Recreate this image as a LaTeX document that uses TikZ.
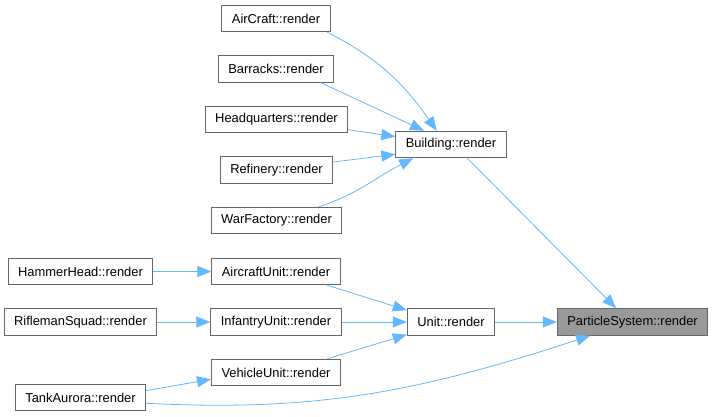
\documentclass[tikz,border=0pt]{standalone}
\usepackage{fontspec}
\setmainfont{Liberation Sans}
\usetikzlibrary{arrows.meta}
\definecolor{edgeblue}{HTML}{63B8FF}
\definecolor{boxgray}{HTML}{666666}
\definecolor{fillgray}{HTML}{999999}

\begin{document}
\begin{tikzpicture}[x=1pt, y=1pt]
\tikzstyle{every node}=[draw=boxgray, fill=white, shape=rectangle, line width=1pt, inner xsep=10pt, inner ysep=0pt, minimum height=26.5pt, font=\fontsize{12.9}{15}\selectfont];
\tikzstyle{calledge}=[draw=edgeblue, line width=0.8pt, -{Triangle[length=14pt, width=11pt]}];
\tikzstyle{current}=[fill=fillgray];

\useasboundingbox (0,0) rectangle (715,-417);

\draw (276,-18.5) node (aircraft) {AirCraft::render};
\draw (276,-69) node (barracks) {Barracks::render};
\draw (276.5,-119.5) node (hq) {Headquarters::render};
\draw (276.5,-170) node (refinery) {Refinery::render};
\draw (276.5,-220.5) node (warfactory) {WarFactory::render};

\draw (451,-144.5) node (building) {Building::render};

\draw (80.5,-271.5) node (hammer) {HammerHead::render};
\draw (80.5,-322) node (rifleman) {RiflemanSquad::render};
\draw (80.5,-397.5) node (tank) {TankAurora::render};

\draw (276,-271.5) node (aircraftunit) {AircraftUnit::render};
\draw (276,-322) node (infantry) {InfantryUnit::render};
\draw (276,-372.5) node (vehicle) {VehicleUnit::render};

\draw (451,-322) node (unit) {Unit::render};

\draw (632.5,-322) node[current] (particle) {ParticleSystem::render};

\draw[calledge] (aircraft.-15) to[out=-27, in=125] (building.136);
\draw[calledge] (barracks.-17) -- (building.153);
\draw[calledge] (hq.-8) -- (building.172);
\draw[calledge] (refinery.8) -- (building.190);
\draw[calledge] (warfactory.18) to[out=18, in=207] (building.200);
\draw[calledge] (building.-40) -- (particle.140);

\draw[calledge] (hammer) -- (aircraftunit);
\draw[calledge] (rifleman) -- (infantry);
\draw[calledge] (tank.6) -- (vehicle.186);
\draw[calledge] (tank.-5) to[out=-3, in=198] (particle.198);

\draw[calledge] (aircraftunit.-15) -- (unit.165);
\draw[calledge] (infantry) -- (unit);
\draw[calledge] (vehicle.15) -- (unit.196);
\draw[calledge] (unit) -- (particle);

\end{tikzpicture}
\end{document}
